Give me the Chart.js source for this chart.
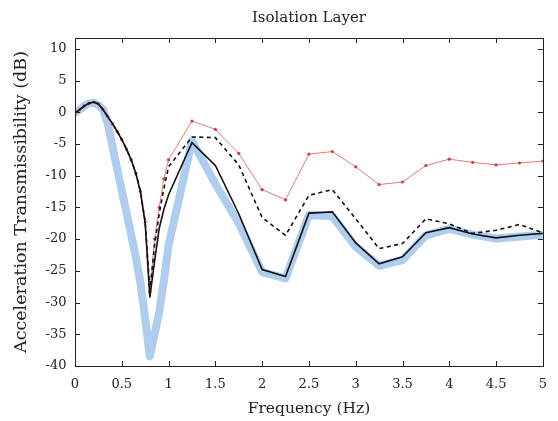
<!DOCTYPE html>
<html>
<head>
<meta charset="utf-8">
<script src="https://cdn.jsdelivr.net/npm/chart.js@4.4.1/dist/chart.umd.min.js"></script>
<style>
  html, body { margin: 0; padding: 0; background: #ffffff; }
  #wrap { width: 558px; height: 421px; }
</style>
</head>
<body>
<div id="wrap"><canvas id="c" width="558" height="421"></canvas></div>
<script>
// ---- data ----
const freq = [0, 0.05, 0.1, 0.15, 0.2, 0.25, 0.3, 0.35, 0.4, 0.45, 0.5, 0.55, 0.6, 0.65, 0.7, 0.75, 0.8, 0.85, 0.9, 0.95, 1.0,
              1.25, 1.5, 1.75, 2, 2.25, 2.5, 2.75, 3, 3.25, 3.5, 3.75, 4, 4.25, 4.5, 4.75, 5];

const solidBlack = [-0.1, 0.4, 1.0, 1.4, 1.6, 1.3, 0.4, -0.7, -1.8, -3.0, -4.3, -5.8, -7.5, -9.6, -12.6, -17.5, -29.2, -23.5, -18.3, -15.3, -13.0,
                    -4.8, -8.4, -16.0, -24.8, -25.9, -15.9, -15.7, -20.6, -23.9, -22.8, -19.0, -18.2, -19.2, -19.8, -19.4, -19.1];

const dashedBlack = [-0.1, 0.4, 1.0, 1.4, 1.6, 1.3, 0.4, -0.7, -1.8, -3.0, -4.3, -5.8, -7.5, -9.6, -12.5, -17.3, -28.3, -21.0, -16.0, -12.0, -8.6,
                     -3.9, -4.0, -8.3, -16.6, -19.4, -13.1, -12.2, -16.8, -21.5, -20.7, -16.8, -17.6, -19.1, -18.6, -17.7, -19.0];

const redMarked = [-0.1, 0.4, 1.0, 1.4, 1.6, 1.3, 0.4, -0.7, -1.8, -3.0, -4.3, -5.8, -7.5, -9.6, -12.5, -17.3, -28.3, -20.0, -15.0, -10.5, -7.5,
                   -1.4, -2.7, -6.5, -12.2, -13.8, -6.6, -6.2, -8.6, -11.4, -11.0, -8.4, -7.4, -7.9, -8.3, -8.0, -7.7];

const blueThick = [-0.1, 0.4, 1.0, 1.4, 1.5, 1.1, 0.4, -1.8, -5.4, -8.9, -12.4, -15.8, -19.3, -22.8, -27.0, -32.5, -38.5, -35.0, -31.5, -26.5, -21.0,
                   -4.5, -11.3, -17.5, -25.2, -26.2, -16.2, -16.4, -21.2, -24.2, -23.3, -19.4, -18.4, -19.3, -19.9, -19.6, -19.3];

const xTicks = [0, 0.5, 1, 1.5, 2, 2.5, 3, 3.5, 4, 4.5, 5];
const yTicks = [-40, -35, -30, -25, -20, -15, -10, -5, 0, 5, 10];

const titleText = 'Isolation Layer';
const xTitle = 'Frequency (Hz)';
const yTitle = 'Acceleration Transmissibility (dB)';

// ---- helpers ----
const toXY = (ys) => freq.map((f, i) => ({ x: f, y: ys[i] }));
const SERIF = '"DejaVu Serif", "Liberation Serif", serif';
const TEXT = '#222222';

// inward ticks on all four sides + closed box
const boxTicks = {
  id: 'boxTicks',
  afterDraw(chart) {
    const { ctx, chartArea: a, scales: { x, y } } = chart;
    const L = 5;
    ctx.save();
    ctx.strokeStyle = '#222222';
    ctx.lineWidth = 1;
    ctx.beginPath();
    x.ticks.forEach(t => {
      const px = Math.round(x.getPixelForValue(t.value)) + 0.5;
      ctx.moveTo(px, a.bottom); ctx.lineTo(px, a.bottom - L);
      ctx.moveTo(px, a.top); ctx.lineTo(px, a.top + L);
    });
    y.ticks.forEach(t => {
      const py = Math.round(y.getPixelForValue(t.value)) + 0.5;
      ctx.moveTo(a.left, py); ctx.lineTo(a.left + L, py);
      ctx.moveTo(a.right, py); ctx.lineTo(a.right - L, py);
    });
    ctx.stroke();
    ctx.strokeRect(Math.round(a.left) + 0.5, Math.round(a.top) + 0.5,
                   Math.round(a.right - a.left), Math.round(a.bottom - a.top));
    ctx.restore();
  }
};

new Chart(document.getElementById('c'), {
  type: 'line',
  data: {
    datasets: [
      {
        label: 'Measured (solid)',
        data: toXY(solidBlack),
        borderColor: '#111111',
        borderWidth: 1.6,
        pointRadius: 0,
        tension: 0
      },
      {
        label: 'Model (dashed)',
        data: toXY(dashedBlack),
        borderColor: '#111111',
        borderWidth: 1.6,
        borderDash: [4, 3.5],
        pointRadius: 0,
        tension: 0
      },
      {
        label: 'Without layer',
        data: toXY(redMarked),
        borderColor: 'rgba(226, 70, 70, 0.9)',
        borderWidth: 0.8,
        pointRadius: 1.6,
        pointBackgroundColor: 'rgba(220, 50, 50, 0.95)',
        pointBorderWidth: 0,
        tension: 0
      },
      {
        label: 'Theory',
        data: toXY(blueThick),
        borderColor: 'rgba(170, 202, 238, 0.95)',
        borderWidth: 8,
        borderJoinStyle: 'round',
        borderCapStyle: 'round',
        pointRadius: 0,
        tension: 0
      }
    ]
  },
  options: {
    responsive: false,
    animation: false,
    events: [],
    layout: { padding: { left: 0, right: 9, top: 0, bottom: 0 } },
    plugins: {
      legend: { display: false },
      tooltip: { enabled: false },
      title: {
        display: true,
        text: titleText,
        fullSize: false,
        color: TEXT,
        font: { family: SERIF, size: 15, weight: 'normal', lineHeight: 1.2 },
        padding: { top: 9, bottom: 11 }
      }
    },
    scales: {
      x: {
        type: 'linear',
        min: 0,
        max: 5,
        afterBuildTicks(s) { s.ticks = xTicks.map(v => ({ value: v })); },
        afterFit(s) { s.height = 55; },
        grid: { display: false, drawTicks: false },
        border: { display: true, color: '#222222', width: 1 },
        ticks: {
          color: TEXT,
          padding: 11,
          maxRotation: 0,
          autoSkip: false,
          font: { family: SERIF, size: 13 },
          callback: (v) => String(v)
        },
        title: {
          display: true,
          text: xTitle,
          color: TEXT,
          font: { family: SERIF, size: 15.5, weight: 'normal', lineHeight: 1.2 },
          padding: { top: 0, bottom: 3 }
        }
      },
      y: {
        type: 'linear',
        min: -40,
        max: 11.7,
        afterBuildTicks(s) { s.ticks = yTicks.map(v => ({ value: v })); },
        afterFit(s) { s.width = 75; },
        grid: { display: false, drawTicks: false },
        border: { display: true, color: '#222222', width: 1 },
        ticks: {
          color: TEXT,
          padding: 8.5,
          autoSkip: false,
          font: { family: SERIF, size: 13 },
          callback: (v) => String(v)
        },
        title: {
          display: true,
          text: yTitle,
          color: TEXT,
          font: { family: SERIF, size: 17.5, weight: 'normal', lineHeight: 1.2 },
          padding: { top: 11, bottom: 0 }
        }
      }
    }
  },
  plugins: [boxTicks]
});
</script>
</body>
</html>
